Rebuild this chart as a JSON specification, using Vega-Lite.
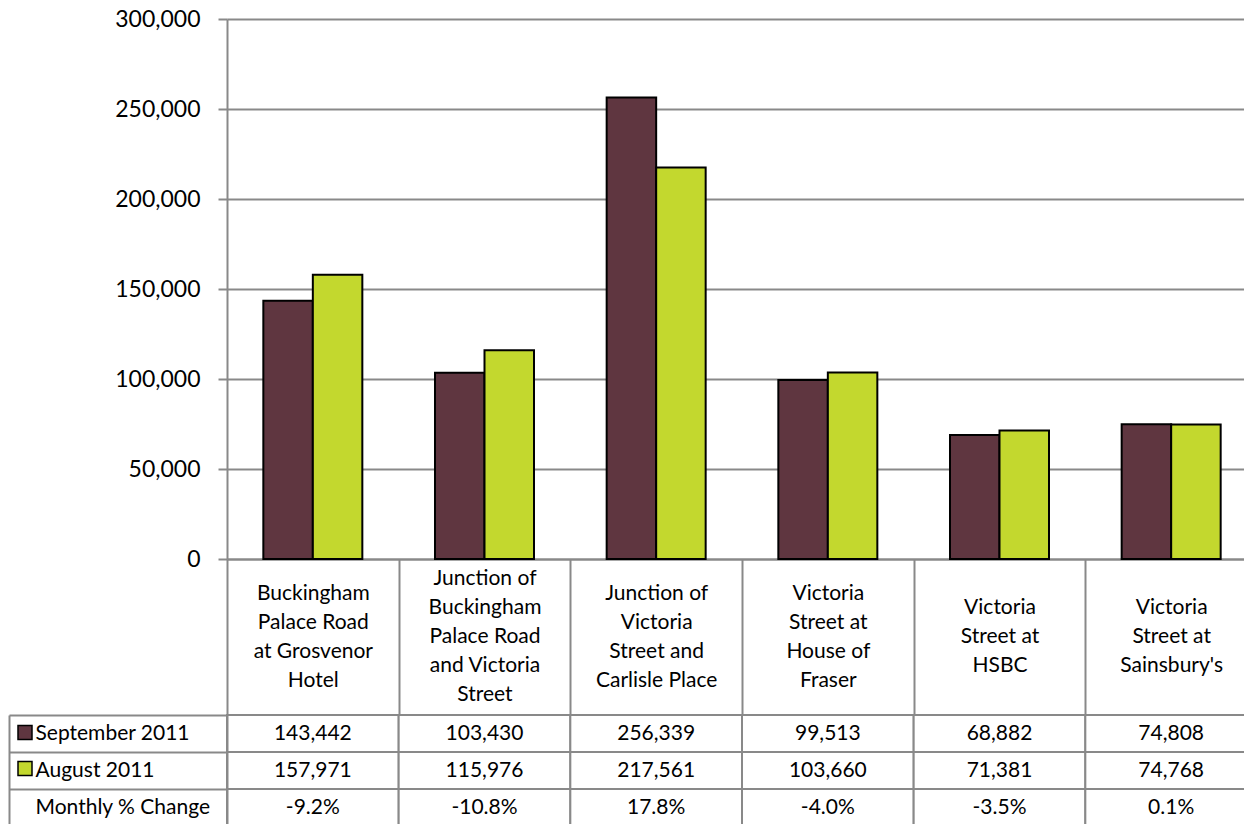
{
  "$schema": "https://vega.github.io/schema/vega-lite/v6.json",
  "padding": {"left": 8, "top": 8, "right": 0, "bottom": 0},
  "background": "white",
  "spacing": -12,
  "config": {
    "font": "Lato",
    "view": {"stroke": null},
    "text": {"color": "black"}
  },
  "resolve": {"scale": {"color": "independent"}},
  "datasets": {
    "bars": [
      {"site": "Buckingham Palace Road at Grosvenor Hotel", "series": "September 2011", "value": 143442},
      {"site": "Buckingham Palace Road at Grosvenor Hotel", "series": "August 2011", "value": 157971},
      {"site": "Junction of Buckingham Palace Road and Victoria Street", "series": "September 2011", "value": 103430},
      {"site": "Junction of Buckingham Palace Road and Victoria Street", "series": "August 2011", "value": 115976},
      {"site": "Junction of Victoria Street and Carlisle Place", "series": "September 2011", "value": 256339},
      {"site": "Junction of Victoria Street and Carlisle Place", "series": "August 2011", "value": 217561},
      {"site": "Victoria Street at House of Fraser", "series": "September 2011", "value": 99513},
      {"site": "Victoria Street at House of Fraser", "series": "August 2011", "value": 103660},
      {"site": "Victoria Street at HSBC", "series": "September 2011", "value": 68882},
      {"site": "Victoria Street at HSBC", "series": "August 2011", "value": 71381},
      {"site": "Victoria Street at Sainsbury's", "series": "September 2011", "value": 74808},
      {"site": "Victoria Street at Sainsbury's", "series": "August 2011", "value": 74768}
    ],
    "pct": [
      {"site": "Buckingham Palace Road at Grosvenor Hotel", "change": "-9.2%"},
      {"site": "Junction of Buckingham Palace Road and Victoria Street", "change": "-10.8%"},
      {"site": "Junction of Victoria Street and Carlisle Place", "change": "17.8%"},
      {"site": "Victoria Street at House of Fraser", "change": "-4.0%"},
      {"site": "Victoria Street at HSBC", "change": "-3.5%"},
      {"site": "Victoria Street at Sainsbury's", "change": "0.1%"}
    ]
  },
  "vconcat": [
    {
      "data": {"name": "bars"},
      "width": 1030,
      "height": 540,
      "mark": {"type": "bar", "stroke": "black", "strokeWidth": 2},
      "encoding": {
        "x": {
          "field": "site",
          "type": "nominal",
          "sort": ["Buckingham Palace Road at Grosvenor Hotel", "Junction of Buckingham Palace Road and Victoria Street", "Junction of Victoria Street and Carlisle Place", "Victoria Street at House of Fraser", "Victoria Street at HSBC", "Victoria Street at Sainsbury's"],
          "scale": {"paddingInner": 0, "paddingOuter": 0},
          "axis": {
            "title": null,
            "orient": "bottom",
            "domainColor": "#898989",
            "domainWidth": 2,
            "tickBand": "extent",
            "tickSize": 155,
            "tickColor": "#898989",
            "tickWidth": 2,
            "labelPadding": -135.5,
            "labelBaseline": "middle",
            "labelAlign": "center",
            "labelAngle": 0,
            "labelFontSize": 21,
            "labelColor": "black",
            "labelLineHeight": 14.5,
            "labelOverlap": false,
            "labelBound": false,
            "labelFlush": false,
            "labelLimit": 0,
            "labelExpr": "datum.label == 'Buckingham Palace Road at Grosvenor Hotel' ? ['\u200b', 'Buckingham', '\u200b', 'Palace Road', '\u200b', 'at Grosvenor', '\u200b', 'Hotel'] : datum.label == 'Junction of Buckingham Palace Road and Victoria Street' ? ['Junction of', '\u200b', 'Buckingham', '\u200b', 'Palace Road', '\u200b', 'and Victoria', '\u200b', 'Street'] : datum.label == 'Junction of Victoria Street and Carlisle Place' ? ['\u200b', 'Junction of', '\u200b', 'Victoria', '\u200b', 'Street and', '\u200b', 'Carlisle Place'] : datum.label == 'Victoria Street at House of Fraser' ? ['\u200b', 'Victoria', '\u200b', 'Street at', '\u200b', 'House of', '\u200b', 'Fraser'] : datum.label == 'Victoria Street at HSBC' ? ['\u200b', '\u200b', 'Victoria', '\u200b', 'Street at', '\u200b', 'HSBC'] : datum.label == \"Victoria Street at Sainsbury's\" ? ['\u200b', '\u200b', 'Victoria', '\u200b', 'Street at', '\u200b', \"Sainsbury's\"] : ''"
          }
        },
        "xOffset": {
          "field": "series",
          "type": "nominal",
          "sort": ["September 2011", "August 2011"],
          "scale": {"paddingInner": 0, "paddingOuter": 0.734}
        },
        "y": {
          "field": "value",
          "type": "quantitative",
          "scale": {"domain": [0, 300000], "nice": false},
          "axis": {
            "title": null,
            "values": [0, 50000, 100000, 150000, 200000, 250000, 300000],
            "format": ",.0f",
            "grid": true,
            "gridColor": "#898989",
            "gridWidth": 2,
            "domainColor": "#898989",
            "domainWidth": 2,
            "tickColor": "#898989",
            "tickWidth": 2,
            "tickSize": 9,
            "labelPadding": 18,
            "labelFontSize": 23,
            "labelColor": "black",
            "minExtent": 218,
            "maxExtent": 218
          }
        },
        "color": {
          "field": "series",
          "type": "nominal",
          "scale": {"domain": ["September 2011", "August 2011"], "range": ["#5F3640", "#C3D82E"]},
          "legend": null
        }
      }
    },
    {
      "width": 1030,
      "height": 111,
      "encoding": {
        "x": {
          "field": "site",
          "type": "nominal",
          "sort": ["Buckingham Palace Road at Grosvenor Hotel", "Junction of Buckingham Palace Road and Victoria Street", "Junction of Victoria Street and Carlisle Place", "Victoria Street at House of Fraser", "Victoria Street at HSBC", "Victoria Street at Sainsbury's"],
          "scale": {"paddingInner": 0, "paddingOuter": 0},
          "axis": null
        }
      },
      "layer": [
        {
          "data": {"name": "bars"},
          "encoding": {
            "y": {
              "field": "series",
              "type": "nominal",
              "scale": {"domain": ["September 2011", "August 2011", "Monthly % Change"], "paddingInner": 0, "paddingOuter": 0},
              "axis": {
                "orient": "left",
                "title": null,
                "grid": false,
                "tickBand": "extent",
                "tickSize": 218,
                "tickColor": "#898989",
                "tickWidth": 2,
                "domainColor": "#898989",
                "domainWidth": 2,
                "labelAlign": "left",
                "labelBaseline": "middle",
                "labelPadding": -26,
                "labelFontSize": 21,
                "labelColor": "black",
                "labelLimit": 0,
                "labelBound": false,
                "labelFlush": false,
                "labelOverlap": false,
                "minExtent": 218,
                "maxExtent": 218
              }
            }
          },
          "layer": [
            {"mark": {"type": "rect", "fill": "white", "stroke": "#898989", "strokeWidth": 2}},
            {
              "mark": {"type": "text", "baseline": "middle", "fontSize": 21, "color": "black"},
              "encoding": {"text": {"field": "value", "type": "quantitative", "format": ","}}
            },
            {
              "mark": {"type": "square", "opacity": 0, "size": 196},
              "encoding": {
                "color": {
                  "field": "series",
                  "type": "nominal",
                  "scale": {"domain": ["September 2011", "August 2011"], "range": ["#5F3640", "#C3D82E"]},
                  "legend": {
                    "orient": "none",
                    "legendX": -210,
                    "legendY": 9.5,
                    "title": null,
                    "direction": "vertical",
                    "symbolType": "square",
                    "symbolSize": 196,
                    "symbolStrokeColor": "black",
                    "symbolStrokeWidth": 1.5,
                    "symbolOpacity": 1,
                    "labelExpr": "''",
                    "labelFontSize": 1,
                    "rowPadding": 16,
                    "padding": 0,
                    "offset": 0
                  }
                }
              }
            }
          ]
        },
        {
          "data": {"name": "pct"},
          "encoding": {
            "y": {
              "datum": "Monthly % Change",
              "type": "nominal",
              "scale": {"domain": ["September 2011", "August 2011", "Monthly % Change"], "paddingInner": 0, "paddingOuter": 0},
              "axis": {
                "orient": "left",
                "offset": 218,
                "title": null,
                "grid": false,
                "labels": false,
                "ticks": false,
                "domain": true,
                "domainColor": "#898989",
                "domainWidth": 2
              }
            }
          },
          "layer": [
            {"mark": {"type": "rect", "fill": "white", "stroke": "#898989", "strokeWidth": 2}},
            {
              "mark": {"type": "text", "baseline": "middle", "fontSize": 21, "color": "black"},
              "encoding": {"text": {"field": "change", "type": "nominal"}}
            }
          ]
        }
      ],
      "resolve": {"axis": {"y": "independent"}}
    }
  ]
}
